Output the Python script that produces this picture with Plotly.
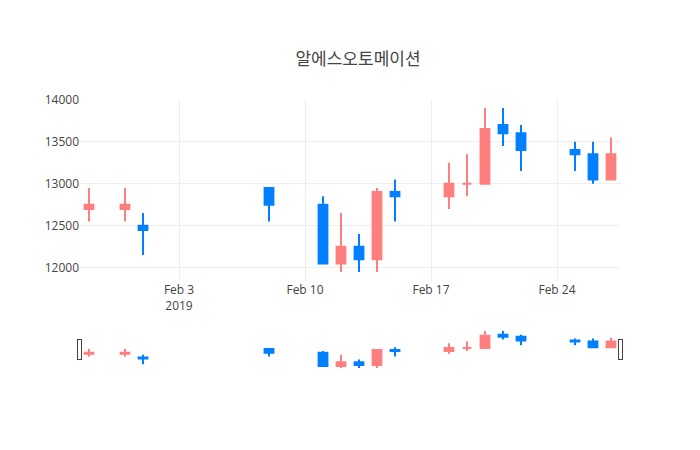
import plotly.graph_objects as go

dates = ["2019-01-29","2019-01-31","2019-02-01","2019-02-08","2019-02-11","2019-02-12","2019-02-13",
         "2019-02-14","2019-02-15","2019-02-18","2019-02-19","2019-02-20","2019-02-21","2019-02-22",
         "2019-02-25","2019-02-26","2019-02-27"]
opens  = [12700,12700,12500,12950,12750,12050,12250,12100,12900,12850,13000,13000,13700,13600,13400,13350,13050]
highs  = [12950,12950,12650,12950,12850,12650,12400,12950,13050,13250,13350,13900,13900,13700,13500,13500,13550]
lows   = [12550,12550,12150,12550,12050,11950,11950,11950,12550,12700,12850,13000,13450,13150,13150,13000,13050]
closes = [12750,12750,12450,12750,12050,12250,12100,12900,12850,13000,13000,13650,13600,13400,13350,13050,13350]

fig = go.Figure(go.Candlestick(
    x=dates, open=opens, high=highs, low=lows, close=closes,
    increasing=dict(line=dict(color="#FF7F7F"), fillcolor="#FF7F7F"),
    decreasing=dict(line=dict(color="#0080FF"), fillcolor="#0080FF"),
))
fig.update_layout(
    title=dict(text="알에스오토메이션", x=0.5, y=0.9, font=dict(family="Noto Sans CJK KR", size=17, color="#444")),
    width=700, height=450, showlegend=False,
    paper_bgcolor="white", plot_bgcolor="white",
    font=dict(family="Open Sans", size=12, color="#444"),
    margin=dict(l=72, r=88, t=91, b=89),
    xaxis=dict(rangeslider=dict(visible=True), gridcolor="#eee", showline=False, zeroline=False),
    yaxis=dict(tickformat="d", gridcolor="#eee", zeroline=False),
)
fig.write_html("out.html")
